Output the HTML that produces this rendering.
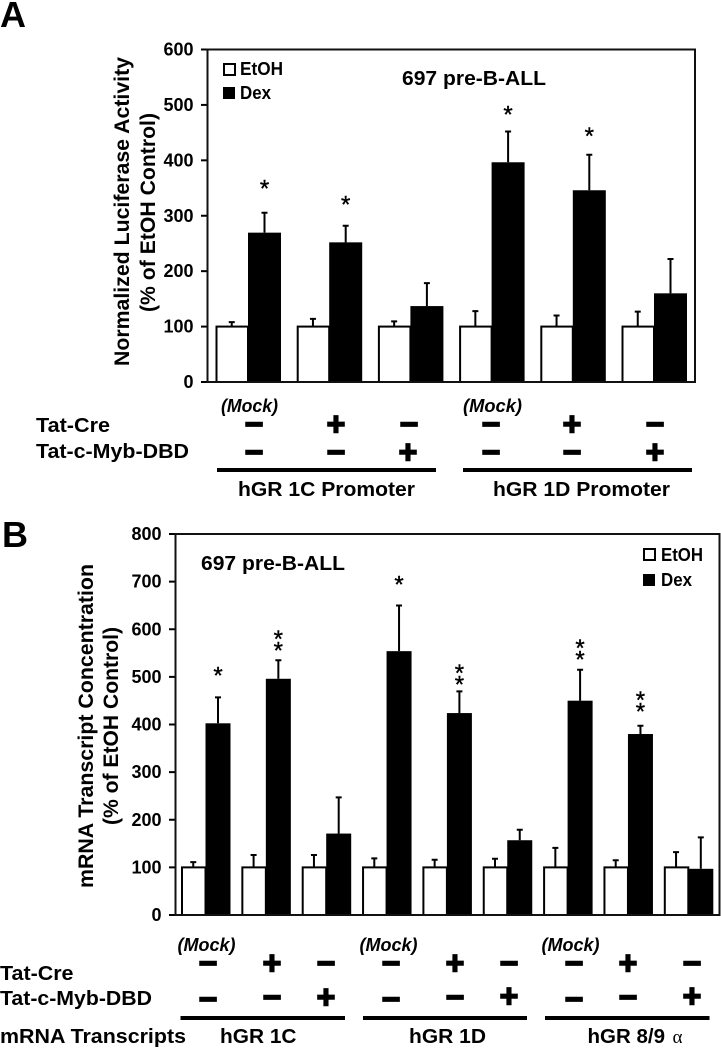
<!DOCTYPE html>
<html lang="en">
<head>
<meta charset="utf-8">
<title>Normalized luciferase activity and mRNA transcript concentration</title>
<style>
html,body{margin:0;padding:0;background:#fff;width:721px;height:1049px;overflow:hidden}
svg{display:block}
text{font-family:"Liberation Sans",sans-serif;font-weight:bold;fill:#000}
.tick{font-size:18px;text-anchor:end}
.axt{font-size:21.5px}
.lg{font-size:18px}
.ttl{font-size:20.5px}
.lab{font-size:20.5px}
.mock{font-size:18px;font-style:italic}
.pm{font-size:32px;text-anchor:middle;stroke:#000;stroke-width:1.6}
.star{font-size:24px;font-weight:normal;text-anchor:middle;stroke:#000;stroke-width:.4}
</style>
</head>
<body>
<svg id="fig" xmlns="http://www.w3.org/2000/svg" width="721" height="1049" viewBox="0 0 721 1049">
<rect width="721" height="1049" fill="#fff"/>

<text x="0" y="27" font-size="36">A</text>
<text x="2" y="547" font-size="36">B</text>

<g id="panelA"></g>
<g id="panelB"></g>

<!-- Panel A text -->
<text class="axt" transform="translate(129,366) rotate(-90)" textLength="309" lengthAdjust="spacingAndGlyphs">Normalized Luciferase Activity</text>
<text class="axt" transform="translate(155,312) rotate(-90)" textLength="199" lengthAdjust="spacingAndGlyphs">(% of EtOH Control)</text>
<text class="ttl" x="402" y="85" textLength="144" lengthAdjust="spacingAndGlyphs">697 pre-B-ALL</text>
<rect x="224" y="64" width="11" height="11" fill="#fff" stroke="#000" stroke-width="2"/>
<text class="lg" x="240" y="75" textLength="43" lengthAdjust="spacingAndGlyphs">EtOH</text>
<rect x="223" y="87" width="12" height="12" fill="#000"/>
<text class="lg" x="240" y="99" textLength="31" lengthAdjust="spacingAndGlyphs">Dex</text>

<text class="mock" x="221" y="412" textLength="57" lengthAdjust="spacingAndGlyphs">(Mock)</text>
<text class="mock" x="463" y="412" textLength="59" lengthAdjust="spacingAndGlyphs">(Mock)</text>
<text class="lab" x="36" y="432" textLength="74" lengthAdjust="spacingAndGlyphs">Tat-Cre</text>
<text class="lab" x="36" y="458" textLength="153" lengthAdjust="spacingAndGlyphs">Tat-c-Myb-DBD</text>

<text class="pm" x="254" y="435">−</text>
<text class="pm" x="336" y="435">+</text>
<text class="pm" x="409" y="435">−</text>
<text class="pm" x="491" y="435">−</text>
<text class="pm" x="572" y="435">+</text>
<text class="pm" x="655" y="435">−</text>
<text class="pm" x="254" y="463">−</text>
<text class="pm" x="336" y="463">−</text>
<text class="pm" x="408" y="463">+</text>
<text class="pm" x="491" y="463">−</text>
<text class="pm" x="572" y="463">−</text>
<text class="pm" x="655" y="463">+</text>

<rect x="217" y="468" width="219" height="4" fill="#000"/>
<rect x="463" y="468" width="229" height="4" fill="#000"/>
<text class="lab" x="238" y="496" textLength="177" lengthAdjust="spacingAndGlyphs">hGR 1C Promoter</text>
<text class="lab" x="493" y="496" textLength="177" lengthAdjust="spacingAndGlyphs">hGR 1D Promoter</text>

<!-- Panel B text -->
<text class="axt" transform="translate(93,888) rotate(-90)" textLength="324" lengthAdjust="spacingAndGlyphs">mRNA Transcript Concentration</text>
<text class="axt" transform="translate(118,825) rotate(-90)" textLength="198" lengthAdjust="spacingAndGlyphs">(% of EtOH Control)</text>
<text class="ttl" x="201" y="570" textLength="144" lengthAdjust="spacingAndGlyphs">697 pre-B-ALL</text>
<rect x="644" y="549" width="11" height="11" fill="#fff" stroke="#000" stroke-width="2"/>
<text class="lg" x="661" y="561" textLength="42" lengthAdjust="spacingAndGlyphs">EtOH</text>
<rect x="643" y="574" width="12" height="12" fill="#000"/>
<text class="lg" x="661" y="586" textLength="31" lengthAdjust="spacingAndGlyphs">Dex</text>

<text class="mock" x="177.5" y="951" textLength="58" lengthAdjust="spacingAndGlyphs">(Mock)</text>
<text class="mock" x="359.5" y="951" textLength="58" lengthAdjust="spacingAndGlyphs">(Mock)</text>
<text class="mock" x="541.5" y="951" textLength="58" lengthAdjust="spacingAndGlyphs">(Mock)</text>
<text class="lab" x="0" y="980" textLength="73.5" lengthAdjust="spacingAndGlyphs">Tat-Cre</text>
<text class="lab" x="0" y="1005" textLength="152" lengthAdjust="spacingAndGlyphs">Tat-c-Myb-DBD</text>

<text class="pm" x="208" y="974">−</text>
<text class="pm" x="272" y="974">+</text>
<text class="pm" x="326" y="974">−</text>
<text class="pm" x="391" y="974">−</text>
<text class="pm" x="455" y="974">+</text>
<text class="pm" x="509" y="974">−</text>
<text class="pm" x="574" y="974">−</text>
<text class="pm" x="628" y="974">+</text>
<text class="pm" x="692" y="974">−</text>
<text class="pm" x="208" y="1010">−</text>
<text class="pm" x="272" y="1008">−</text>
<text class="pm" x="326" y="1008">+</text>
<text class="pm" x="391" y="1010">−</text>
<text class="pm" x="455" y="1008">−</text>
<text class="pm" x="509" y="1007">+</text>
<text class="pm" x="574" y="1010">−</text>
<text class="pm" x="628" y="1008">−</text>
<text class="pm" x="692" y="1007">+</text>

<rect x="180.5" y="1016" width="164.5" height="4" fill="#000"/>
<rect x="363" y="1016" width="164" height="4" fill="#000"/>
<rect x="545" y="1016" width="164.5" height="4" fill="#000"/>
<text class="lab" x="0" y="1043" textLength="186" lengthAdjust="spacingAndGlyphs">mRNA Transcripts</text>
<text class="lab" x="220" y="1043" textLength="76.5" lengthAdjust="spacingAndGlyphs">hGR 1C</text>
<text class="lab" x="409" y="1043" textLength="77" lengthAdjust="spacingAndGlyphs">hGR 1D</text>
<text class="lab" x="587.5" y="1043" textLength="77.5" lengthAdjust="spacingAndGlyphs">hGR 8/9</text>
<text x="672.5" y="1043" font-size="19" style="font-family:'Liberation Serif',serif;font-weight:normal">α</text>
</svg>

<script>
// Panel A data
const categoriesA = ['1C-mock', '1C-cre', '1C-myb', '1D-mock', '1D-cre', '1D-myb'];
const ticksA = [0, 100, 200, 300, 400, 500, 600];
const etohA = [100, 100, 100, 100, 100, 100];
const etohErrA = [8, 14, 9.5, 28, 20, 27];
const dexA = [269.5, 252, 137, 396.5, 346, 160];
const dexErrA = [36, 30, 41.5, 55.5, 64, 62];
const starCountA = [1, 1, 0, 1, 1, 0];
const starLevelA = [354, 325, 0, 487, 448, 0];

// Panel B data
const categoriesB = ['1C-mock', '1C-cre', '1C-myb', '1D-mock', '1D-cre', '1D-myb', '89-mock', '89-cre', '89-myb'];
const ticksB = [0, 100, 200, 300, 400, 500, 600, 700, 800];
const etohB = [100, 100, 100, 100, 100, 100, 100, 100, 100];
const etohErrB = [11, 26, 26, 19, 16, 18, 41, 15, 32];
const dexB = [402.5, 496, 171, 554, 424, 157, 450, 380, 97];
const dexErrB = [54.5, 39, 76, 96, 45.5, 22, 65, 17.5, 66];
const starCountB = [1, 2, 0, 1, 2, 0, 2, 2, 0];
const starLevelB = [508, 560.5, 0, 699, 489, 0, 542, 432.5, 0];

const NS = 'http://www.w3.org/2000/svg';
function mk(parent, tag, attrs) {
  const el = document.createElementNS(NS, tag);
  for (const k in attrs) el.setAttribute(k, attrs[k]);
  parent.appendChild(el);
  return el;
}

function drawPanel(cfg) {
  const g = document.getElementById(cfg.id);
  const y = v => cfg.y0 - v * (cfg.y0 - cfg.yTop) / cfg.yMax;
  const x = i => cfg.x0 + cfg.step * i;

  cfg.ticks.forEach(t => {
    const tk = mk(g, 'line', {x1: cfg.left - 6.5, x2: cfg.left, y1: y(t), y2: y(t), stroke: '#000', 'stroke-width': 2});
    
    
    const lb = mk(g, 'text', {class: 'tick', x: cfg.tickX, y: y(t) + 6});
    lb.textContent = t;
    
    
  });

  cfg.categories.forEach((c, i) => {
    const wx = x(i) + 1;
    const bx = x(i) + cfg.whiteW;
    const wc = x(i) + cfg.whiteW / 2;
    const bc = bx + cfg.blackW / 2;

    const we = mk(g, 'path', {d: 'M' + wc + ' ' + y(cfg.etoh[i]) + 'V' + y(cfg.etoh[i] + cfg.etohErr[i]) + 'm-3 0h6', stroke: '#000', 'stroke-width': 2, fill: 'none'});
    
    

    const de = mk(g, 'path', {d: 'M' + bc + ' ' + y(cfg.dex[i]) + 'V' + y(cfg.dex[i] + cfg.dexErr[i]) + 'm-3 0h6', stroke: '#000', 'stroke-width': 2, fill: 'none'});
    
    

    const wb = mk(g, 'rect', {x: wx, y: y(cfg.etoh[i]), width: cfg.whiteW - 1, height: cfg.y0 - y(cfg.etoh[i]), fill: '#fff', stroke: '#000', 'stroke-width': 2});
    
    

    const db = mk(g, 'rect', {x: bx, y: y(cfg.dex[i]), width: cfg.blackW, height: cfg.y0 - y(cfg.dex[i]), fill: '#000'});
    
    

    for (let s = 0; s < cfg.starCount[i]; s++) {
      const st = mk(g, 'text', {class: 'star', x: bc, y: y(cfg.starLevel[i]) - s * 11.5 + 10.5});
      st.textContent = '*';
      
      
    }
  });

  const frame = mk(g, 'rect', {x: cfg.left, y: cfg.yTop, width: cfg.right - cfg.left, height: cfg.y0 - cfg.yTop, fill: 'none', stroke: '#111', 'stroke-width': 2});
  
  
}

drawPanel({id: 'panelA', left: 207.5, right: 695, yTop: 49.5, y0: 382, yMax: 600, tickX: 193.5,
  x0: 215.5, step: 81.2, whiteW: 32.5, blackW: 33,
  categories: categoriesA, ticks: ticksA, etoh: etohA, etohErr: etohErrA, dex: dexA, dexErr: dexErrA,
  starCount: starCountA, starLevel: starLevelA});

drawPanel({id: 'panelB', left: 175.5, right: 719.5, yTop: 534, y0: 915, yMax: 800, tickX: 161.5,
  x0: 181, step: 60.35, whiteW: 24.5, blackW: 25,
  categories: categoriesB, ticks: ticksB, etoh: etohB, etohErr: etohErrB, dex: dexB, dexErr: dexErrB,
  starCount: starCountB, starLevel: starLevelB});
</script>
</body>
</html>
